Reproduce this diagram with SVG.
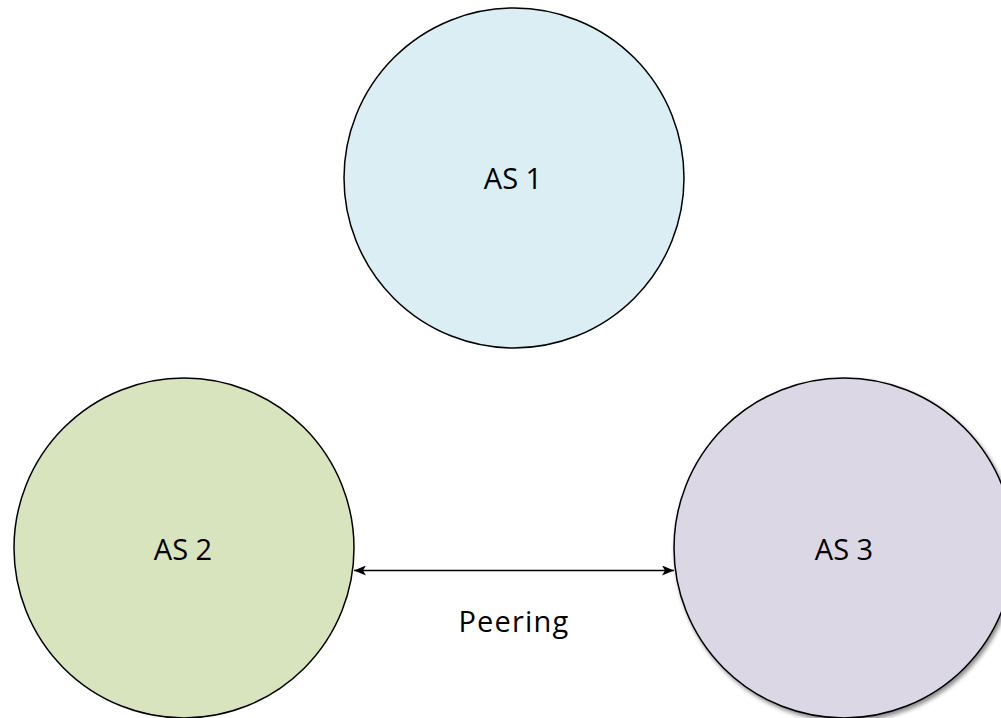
<svg xmlns="http://www.w3.org/2000/svg" width="1001" height="718" viewBox="0 0 1001 718">
<style>
.node{stroke:#000;stroke-width:1.5}
.lbl{font-family:"Open Sans","Noto Sans",sans-serif;font-size:29px;fill:#000;text-anchor:middle}
.conn{stroke:#000;stroke-width:1.5;fill:none}
</style>
<defs>
<marker id="ah" viewBox="0 0 12 10" refX="12" refY="5" markerWidth="12" markerHeight="10" markerUnits="userSpaceOnUse" orient="auto-start-reverse">
<path d="M0,0 L12,5 L0,10 L3,5 Z" fill="#000"/>
</marker>
<filter id="sh" x="-10%" y="-10%" width="125%" height="125%">
<feDropShadow dx="2" dy="3" stdDeviation="2" flood-color="#000" flood-opacity="0.45"/>
</filter>
</defs>
<rect width="1001" height="718" fill="#fff"/>
<g id="as1">
<circle class="node" cx="514" cy="178" r="170" fill="#DAEEF3"/>
<text class="lbl" x="513" y="189">AS 1</text>
</g>
<g id="as2">
<circle class="node" cx="184" cy="548" r="170" fill="#D7E4BD"/>
<text class="lbl" x="183" y="560">AS 2</text>
</g>
<g id="as3">
<circle class="node" cx="844" cy="548" r="170" fill="#DCD7E5" filter="url(#sh)"/>
<text class="lbl" x="844" y="560">AS 3</text>
</g>
<g id="connectors">
<line class="conn" x1="354" y1="570.5" x2="674" y2="570.5" marker-start="url(#ah)" marker-end="url(#ah)"/>
<text class="lbl" x="514" y="632" letter-spacing="1.2">Peering</text>
</g>
</svg>
